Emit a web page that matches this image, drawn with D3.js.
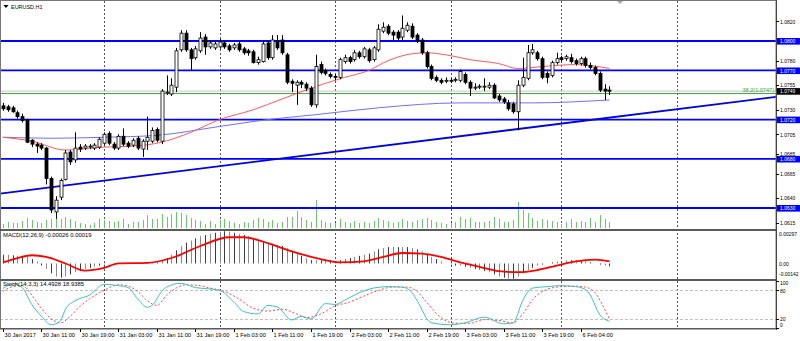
<!DOCTYPE html>
<html><head><meta charset="utf-8">
<script src="https://cdn.jsdelivr.net/npm/d3@7"></script>
<style>
html,body{margin:0;padding:0;background:#fff;}
svg{display:block;font-family:"Liberation Sans",Arial,sans-serif;}
</style></head><body>
<svg id="chart" width="800" height="341"></svg>
<script>
// EURUSD H1 candles, 30 Jan 2017 03:00 to 6 Feb 2017 10:00
const opens = [1.0734,1.0733,1.0732,1.0727,1.0723,1.0720,1.0699,1.0695,1.0694,1.0691,
1.0660,1.0626,1.0641,1.0659,1.0687,1.0679,1.0692,1.0691,1.0692,1.0691,
1.0692,1.0696,1.0706,1.0695,1.0691,1.0703,1.0696,1.0694,1.0701,1.0690,
1.0698,1.0698,1.0710,1.0698,1.0747,1.0746,1.0753,1.0791,1.0808,1.0791,
1.0783,1.0790,1.0804,1.0794,1.0793,1.0794,1.0798,1.0795,1.0793,1.0797,
1.0792,1.0790,1.0789,1.0778,1.0779,1.0798,1.0783,1.0800,1.0801,1.0786,
1.0759,1.0755,1.0758,1.0756,1.0752,1.0735,1.0776,1.0770,1.0766,1.0764,
1.0763,1.0779,1.0783,1.0781,1.0788,1.0784,1.0791,1.0781,1.0791,1.0810,
1.0815,1.0809,1.0809,1.0804,1.0811,1.0815,1.0806,1.0801,1.0788,1.0774,
1.0763,1.0760,1.0759,1.0760,1.0760,1.0760,1.0766,1.0758,1.0752,1.0753,
1.0753,1.0753,1.0755,1.0744,1.0741,1.0737,1.0736,1.0728,1.0755,1.0762,
1.0788,1.0788,1.0782,1.0767,1.0765,1.0778,1.0783,1.0782,1.0783,1.0780,
1.0777,1.0782,1.0775,1.0773,1.0767,1.0751,1.0750];
const highs = [1.0737,1.0735,1.0734,1.0729,1.0726,1.0721,1.0700,1.0697,1.0696,1.0692,
1.0662,1.0642,1.0660,1.0689,1.0689,1.0707,1.0695,1.0695,1.0695,1.0696,
1.0702,1.0707,1.0708,1.0697,1.0705,1.0711,1.0698,1.0701,1.0703,1.0700,
1.0723,1.0712,1.0712,1.0751,1.0765,1.0762,1.0793,1.0811,1.0811,1.0793,
1.0795,1.0809,1.0807,1.0801,1.0799,1.0802,1.0800,1.0797,1.0798,1.0799,
1.0794,1.0792,1.0791,1.0784,1.0799,1.0800,1.0806,1.0806,1.0806,1.0788,
1.0761,1.0760,1.0760,1.0758,1.0754,1.0786,1.0779,1.0772,1.0768,1.0766,
1.0783,1.0786,1.0785,1.0791,1.0790,1.0794,1.0793,1.0795,1.0817,1.0819,
1.0817,1.0811,1.0811,1.0826,1.0819,1.0818,1.0808,1.0803,1.0790,1.0776,
1.0765,1.0762,1.0763,1.0762,1.0763,1.0771,1.0768,1.0760,1.0757,1.0756,
1.0762,1.0758,1.0757,1.0746,1.0743,1.0740,1.0738,1.0760,1.0783,1.0796,
1.0797,1.0790,1.0784,1.0769,1.0780,1.0788,1.0785,1.0786,1.0787,1.0782,
1.0784,1.0784,1.0778,1.0775,1.0769,1.0756,1.0754];
const lows = [1.0729,1.0728,1.0727,1.0721,1.0717,1.0696,1.0692,1.0686,1.0689,1.0654,
1.0625,1.0619,1.0638,1.0658,1.0674,1.0676,1.0687,1.0689,1.0690,1.0689,
1.0690,1.0694,1.0694,1.0689,1.0689,1.0693,1.0691,1.0692,1.0689,1.0682,
1.0689,1.0696,1.0697,1.0695,1.0745,1.0744,1.0748,1.0789,1.0789,1.0770,
1.0781,1.0788,1.0786,1.0792,1.0791,1.0792,1.0792,1.0789,1.0791,1.0789,
1.0786,1.0785,1.0777,1.0776,1.0778,1.0781,1.0781,1.0791,1.0786,1.0756,
1.0748,1.0735,1.0752,1.0749,1.0733,1.0732,1.0766,1.0765,1.0762,1.0760,
1.0761,1.0777,1.0777,1.0779,1.0782,1.0782,1.0778,1.0779,1.0789,1.0808,
1.0806,1.0800,1.0801,1.0801,1.0809,1.0802,1.0798,1.0786,1.0772,1.0760,
1.0758,1.0756,1.0757,1.0757,1.0758,1.0758,1.0756,1.0744,1.0750,1.0751,
1.0749,1.0751,1.0741,1.0738,1.0736,1.0729,1.0726,1.0709,1.0753,1.0760,
1.0786,1.0780,1.0761,1.0757,1.0763,1.0776,1.0779,1.0780,1.0777,1.0775,
1.0775,1.0773,1.0771,1.0765,1.0748,1.0740,1.0745];
const closes = [1.0731,1.0730,1.0728,1.0723,1.0719,1.0697,1.0695,1.0693,1.0691,1.0660,
1.0628,1.0638,1.0658,1.0686,1.0677,1.0691,1.0690,1.0693,1.0693,1.0694,
1.0700,1.0705,1.0696,1.0691,1.0703,1.0695,1.0693,1.0699,1.0691,1.0698,
1.0702,1.0709,1.0699,1.0749,1.0748,1.0755,1.0790,1.0808,1.0791,1.0782,
1.0792,1.0803,1.0794,1.0798,1.0797,1.0799,1.0794,1.0791,1.0796,1.0791,
1.0788,1.0788,1.0778,1.0781,1.0797,1.0783,1.0801,1.0793,1.0788,1.0758,
1.0757,1.0758,1.0756,1.0752,1.0735,1.0774,1.0768,1.0767,1.0764,1.0763,
1.0781,1.0783,1.0779,1.0788,1.0784,1.0792,1.0780,1.0793,1.0812,1.0814,
1.0808,1.0806,1.0803,1.0813,1.0816,1.0804,1.0800,1.0788,1.0774,1.0762,
1.0760,1.0758,1.0760,1.0759,1.0761,1.0769,1.0758,1.0752,1.0753,1.0754,
1.0754,1.0755,1.0742,1.0740,1.0738,1.0731,1.0728,1.0755,1.0763,1.0788,
1.0791,1.0782,1.0763,1.0763,1.0778,1.0782,1.0781,1.0784,1.0779,1.0777,
1.0782,1.0775,1.0773,1.0767,1.0750,1.0749,1.0749];
// tick volume per bar
const volumes = [400,600,500,500,700,1000,800,600,500,800,
900,1100,900,1100,900,700,500,400,300,500,
900,800,700,600,700,900,400,600,600,800,
1300,900,900,1400,1100,1400,1600,1500,1300,1000,
800,700,400,700,400,800,900,700,500,400,
600,500,800,1000,900,600,800,500,600,1100,
1100,1700,1100,800,600,2800,800,600,500,500,
900,600,500,700,500,600,500,700,1000,800,
700,500,600,900,700,600,800,900,1000,800,
600,500,400,500,600,1100,900,1000,600,600,
600,700,1100,900,600,600,800,2600,1800,1500,
1000,700,900,800,700,600,400,600,900,600,
700,600,1000,600,1300,900,600];

// moving averages (bar index, price)
const maRedBars = [0,6,13,21,27,33,39,45,52,58,64,71,76,80,85,88,92,97,103,107,112,119,126];
const maRedVals = [1.0702,1.0698,1.0689,1.0692,1.0693,1.0697,1.0707,1.0720,1.0730,1.0741,1.0752,1.0763,1.0770,1.0780,1.0787,1.0788,1.0786,1.0781,1.0777,1.0772,1.0774,1.0776,1.0772];
const maBlueBars = [0,10,21,32,45,55,65,78,95,110,126];
const maBlueVals = [1.0702,1.0701,1.0702,1.0704,1.0713,1.0720,1.0725,1.0732,1.0737,1.0737,1.0740];

// support / resistance levels, trend line and fibonacci level
const levels = [1.0800, 1.0770, 1.0720, 1.0680, 1.0630];
const trendBars = [0, 126];
const trendPrices = [1.0645, 1.0722];
const fibLevel = 1.0747;
const fibText = "38.2(1.0747)";
const bidPrice = 1.0749;
const priceTicks = [1.0820, 1.0780, 1.0755, 1.0730, 1.0705, 1.0685, 1.0665, 1.0640, 1.0615];

// MACD(12,26,9): main line (histogram) and signal line
const macdMain = [8,8,7.5,7,7,6,4,2,
-2,-5,-9,-12,-13,-12,-10,-8,-7,-5,-4,-3,-2,
-1,0,0.5,0.5,0.5,0.5,0.5,0.5,0.5,0.5,1,1,
3,5,8,12,16,19,21,23,25,26,27,28,29,29.5,29,
28,27,26,25,23,21,20,19,18,17,16,14,11,9,7,5,3,
3,3,3,3,2,3,4,5,6,7,8,
9,11,13,14,15,15,15,15,15,14,13,11,9,
6,4,2,0,-1,-2,-2,-3,-4,-5,-6,-7,-8,
-10,-12,-13,-14,-14,-12,
-9,-6,-4,-2,-1,0,1,2,2,3,3,3,3,
2,1,0,-1,-2,-2.6].map(v => v / 10000);
const macdSigBars = [0,3,6,9,13,17,21,24,30,35,41,47,50,54,60,66,70,75,79,83,87,91,95,99,103,107,111,115,119,123,126];
const macdSigVals = [1,5,7.5,6,0,-6.5,-4,0,0.5,5,16,24,24,20,11,4,1,2,6,9.6,9,6,1,-3,-7,-8,-6,-2,2,3.5,1.9].map(v => v / 10000);
const macdTicks = [0.00297, 0.00, -0.00142];
const macdTickText = ["0.00297", "0.00", "-0.00142"];

// Stochastic(14,3,3): %K and %D
const stochKBars = [0,2,4,6,8,10,11,12,13,15,18,21,24,26,28,30,31,33,34,37,40,42,45,48,50,53,55,57,60,62,64,67,69,71,74,77,80,83,85,86,89,93,96,100,104,106,108,110,113,116,119,121,122,124,126];
const stochKVals = [84,94,86,50,25,7,9,16,40,58,70,93,90,86,62,44,48,78,87,95,86,84,80,55,35,30,48,45,17,25,19,52,50,59,75,85,88,87,75,59,11,7,11,23,9,11,59,85,88,90,88,82,70,28,14.49];
const stochDBars = [0,2,4,6,8,10,12,14,16,18,21,24,26,28,30,32,34,36,38,41,43,46,49,52,55,58,61,63,66,69,72,75,78,81,84,86,88,91,94,97,100,103,106,108,110,113,116,119,121,123,125,126];
const stochDVals = [78,88,90,70,42,20,11,25,46,62,80,92,89,78,58,48,70,85,92,90,85,78,62,42,36,40,30,22,30,47,55,68,80,87,87,78,55,22,10,10,18,16,11,30,60,82,88,89,87,75,40,18.94];
const stochTicks = [100, 80, 20, 0];

// time axis labels every 8 bars
const timeLabels = ["30 Jan 2017","30 Jan 11:00","30 Jan 19:00","31 Jan 03:00","31 Jan 11:00","31 Jan 19:00",
"1 Feb 03:00","1 Feb 11:00","1 Feb 19:00","2 Feb 03:00","2 Feb 11:00","2 Feb 19:00",
"3 Feb 03:00","3 Feb 11:00","3 Feb 19:00","6 Feb 04:00"];
const timeLabelBars = [0,8,16,24,32,40,48,56,64,72,80,88,96,104,112,120];
// day separators (midnight bars)
const dayBars = [21,45,69,93,116,140];

const svg = d3.select("#chart");
const plotR = 776;
const fontSize = 6.2;

// narrow terminal-style text: horizontally condensed
function label(g, tx, ty, str, sx, fill, anchor) {
  return g.append("text")
    .attr("transform", `translate(${tx},${ty}) scale(${sx},1)`)
    .attr("font-size", fontSize).attr("fill", fill || "#000")
    .attr("text-anchor", anchor || "start").text(str);
}

// scales
const x = d3.scaleLinear().domain([0, 126]).range([2.9, 2.9 + 126 * 4.814]);
const y = d3.scaleLinear().domain([1.0630, 1.0800]).range([208, 41]);
const yVol = d3.scaleLinear().domain([0, 3000]).range([228, 198]);
const yMacd = d3.scaleLinear().domain([-0.00142, 0.00297]).range([279, 231]);
const yStoch = d3.scaleLinear().domain([0, 100]).range([328, 281]);
const px = i => Math.round(x(i)) + 0.5;

svg.append("rect").attr("width", 800).attr("height", 341).attr("fill", "#fff");

const defs = svg.append("defs");
[["clipMain", 0, 229], ["clipMacd", 231, 279], ["clipStoch", 281, 328]].forEach(([id, t, b]) => {
  defs.append("clipPath").attr("id", id).append("rect").attr("x", 0).attr("y", t).attr("width", plotR).attr("height", b - t);
});

// day separators across all panels
const gDays = svg.append("g");
dayBars.forEach(b => {
  gDays.append("line").attr("x1", px(b)).attr("x2", px(b)).attr("y1", 1).attr("y2", 328)
    .attr("stroke", "#555").attr("stroke-width", 1).attr("stroke-dasharray", "2,2");
});

// ---------- main panel ----------
const gMain = svg.append("g").attr("clip-path", "url(#clipMain)");

// volumes
gMain.append("g").selectAll("line").data(volumes).join("line")
  .attr("x1", (d, i) => px(i)).attr("x2", (d, i) => px(i))
  .attr("y1", yVol(0)).attr("y2", d => yVol(d))
  .attr("stroke", "#6cc46c").attr("stroke-width", 1);

// horizontal levels
gMain.append("g").selectAll("line").data(levels).join("line")
  .attr("x1", 0).attr("x2", plotR).attr("y1", d => y(d)).attr("y2", d => y(d))
  .attr("stroke", "#0000ff").attr("stroke-width", 1.8);

// bid line and fibonacci level
gMain.append("line").attr("x1", 0).attr("x2", plotR).attr("y1", y(bidPrice)).attr("y2", y(bidPrice))
  .attr("stroke", "#c8c8c8").attr("stroke-width", 1);
gMain.append("line").attr("x1", 0).attr("x2", plotR).attr("y1", y(fibLevel) + 0.5).attr("y2", y(fibLevel) + 0.5)
  .attr("stroke", "#3aa63a").attr("stroke-width", 1);
label(gMain, plotR - 2, y(fibLevel) - 1.5, fibText, 0.9, "#3aa63a", "end");

// trend line, extended to the panel edges
const trend = d3.scaleLinear().domain(trendBars).range(trendPrices);
gMain.append("line")
  .attr("x1", 0).attr("y1", y(trend(x.invert(0))))
  .attr("x2", plotR).attr("y2", y(trend(x.invert(plotR))))
  .attr("stroke", "#0000dd").attr("stroke-width", 1.8);

// moving averages
const maLine = d3.line().curve(d3.curveMonotoneX);
gMain.append("path").attr("d", maLine(maBlueBars.map((b, k) => [x(b), y(maBlueVals[k])])))
  .attr("fill", "none").attr("stroke", "#6f6fff").attr("stroke-width", 1);
gMain.append("path").attr("d", maLine(maRedBars.map((b, k) => [x(b), y(maRedVals[k])])))
  .attr("fill", "none").attr("stroke", "#ff5a5a").attr("stroke-width", 1);

// candles
const gC = gMain.append("g");
closes.forEach((c, i) => {
  const o = opens[i], h = highs[i], l = lows[i];
  const cx = px(i);
  gC.append("line").attr("x1", cx).attr("x2", cx).attr("y1", y(h)).attr("y2", y(l))
    .attr("stroke", "#000").attr("stroke-width", 1);
  const top = y(Math.max(o, c)), bot = y(Math.min(o, c));
  gC.append("rect").attr("x", cx - 1.5).attr("y", top).attr("width", 3).attr("height", Math.max(bot - top, 0.8))
    .attr("fill", c >= o ? "#fff" : "#000").attr("stroke", "#000").attr("stroke-width", 0.8);
});

// ---------- MACD panel ----------
const gMacd = svg.append("g").attr("clip-path", "url(#clipMacd)");
gMacd.append("g").selectAll("line").data(macdMain).join("line")
  .attr("x1", (d, i) => px(i)).attr("x2", (d, i) => px(i))
  .attr("y1", yMacd(0)).attr("y2", d => yMacd(d))
  .attr("stroke", (d, i) => i % 2 ? "#8a8a8a" : "#3c3c3c").attr("stroke-width", 1);
gMacd.append("path").attr("d", d3.line().curve(d3.curveMonotoneX)(macdSigBars.map((b, k) => [x(b), yMacd(macdSigVals[k])])))
  .attr("fill", "none").attr("stroke", "#ff0000").attr("stroke-width", 1.8);

// ---------- Stochastic panel ----------
const gSt = svg.append("g").attr("clip-path", "url(#clipStoch)");
[80, 20].forEach(v => {
  gSt.append("line").attr("x1", 0).attr("x2", plotR).attr("y1", Math.round(yStoch(v)) + 0.5).attr("y2", Math.round(yStoch(v)) + 0.5)
    .attr("stroke", "#c0c0c0").attr("stroke-width", 1).attr("stroke-dasharray", "3,2");
});
gSt.append("path").attr("d", d3.line().curve(d3.curveMonotoneX)(stochDBars.map((b, k) => [x(b), yStoch(stochDVals[k])])))
  .attr("fill", "none").attr("stroke", "#ff4444").attr("stroke-width", 1).attr("stroke-dasharray", "2,2");
gSt.append("path").attr("d", d3.line().curve(d3.curveMonotoneX)(stochKBars.map((b, k) => [x(b), yStoch(stochKVals[k])])))
  .attr("fill", "none").attr("stroke", "#3cc0c0").attr("stroke-width", 1);

// ---------- frames and separators ----------
svg.append("rect").attr("x", 0.5).attr("y", 0.5).attr("width", plotR - 0.5).attr("height", 328)
  .attr("fill", "none").attr("stroke", "#777").attr("stroke-width", 1);
[229, 279].forEach(v => svg.append("rect").attr("x", 0).attr("y", v).attr("width", plotR + 1).attr("height", 2).attr("fill", "#5a5a5a"));
svg.append("rect").attr("x", 0).attr("y", 328).attr("width", plotR + 1).attr("height", 1.5).attr("fill", "#5a5a5a");
svg.append("rect").attr("x", plotR).attr("y", 0).attr("width", 1).attr("height", 330).attr("fill", "#444");

// chart shift marker
svg.append("path").attr("d", d3.line()([[x(128.2) - 3, 1], [x(128.2) + 3, 1], [x(128.2), 4]]) + "Z").attr("fill", "#a8a8a8");

// ---------- right price axis ----------
const gAx = svg.append("g");
const axSx = 0.8;
priceTicks.forEach(v => {
  gAx.append("line").attr("x1", plotR).attr("x2", plotR + 3).attr("y1", Math.round(y(v)) + 0.5).attr("y2", Math.round(y(v)) + 0.5).attr("stroke", "#000");
  label(gAx, 780, y(v) + 2.2, v.toFixed(4), axSx);
});
function priceBox(v, fill) {
  const cy = y(v);
  gAx.append("rect").attr("x", 777).attr("y", cy - 3).attr("width", 23).attr("height", 6.6).attr("fill", fill);
  label(gAx, 780, cy + 2.2, v.toFixed(4), axSx, "#fff");
}
levels.forEach(v => priceBox(v, "#0000ff"));
priceBox(bidPrice, "#000");

// MACD axis labels
macdTicks.forEach((v, k) => {
  const cy = Math.min(Math.max(yMacd(v), 234), 273.5);
  label(gAx, 779, cy + 2.2, macdTickText[k], axSx);
});
// Stochastic axis labels
stochTicks.forEach(v => {
  const cy = Math.min(Math.max(yStoch(v), 283), 325);
  gAx.append("line").attr("x1", plotR).attr("x2", plotR + 3).attr("y1", Math.round(yStoch(v)) + 0.5).attr("y2", Math.round(yStoch(v)) + 0.5).attr("stroke", "#000");
  label(gAx, 780, cy + 2.2, String(v), axSx);
});

// ---------- time axis ----------
timeLabels.forEach((t, k) => {
  const tx = px(timeLabelBars[k]);
  gAx.append("line").attr("x1", tx).attr("x2", tx).attr("y1", 329).attr("y2", 332).attr("stroke", "#000");
  label(gAx, tx + 1, 336.5, t, 0.92);
});

// ---------- titles ----------
svg.append("path").attr("d", "M3.5,5 L8.5,5 L6,8 Z").attr("fill", "#000");
label(svg, 11, 8.5, "EURUSD,H1", 0.88);
label(svg, 3, 237, "MACD(12,26,9) -0.00026 0.00019", 0.95);
label(svg, 3, 286, "Stoch(14,3,3) 14.4928 18.9385", 0.95);
</script>
</body></html>
